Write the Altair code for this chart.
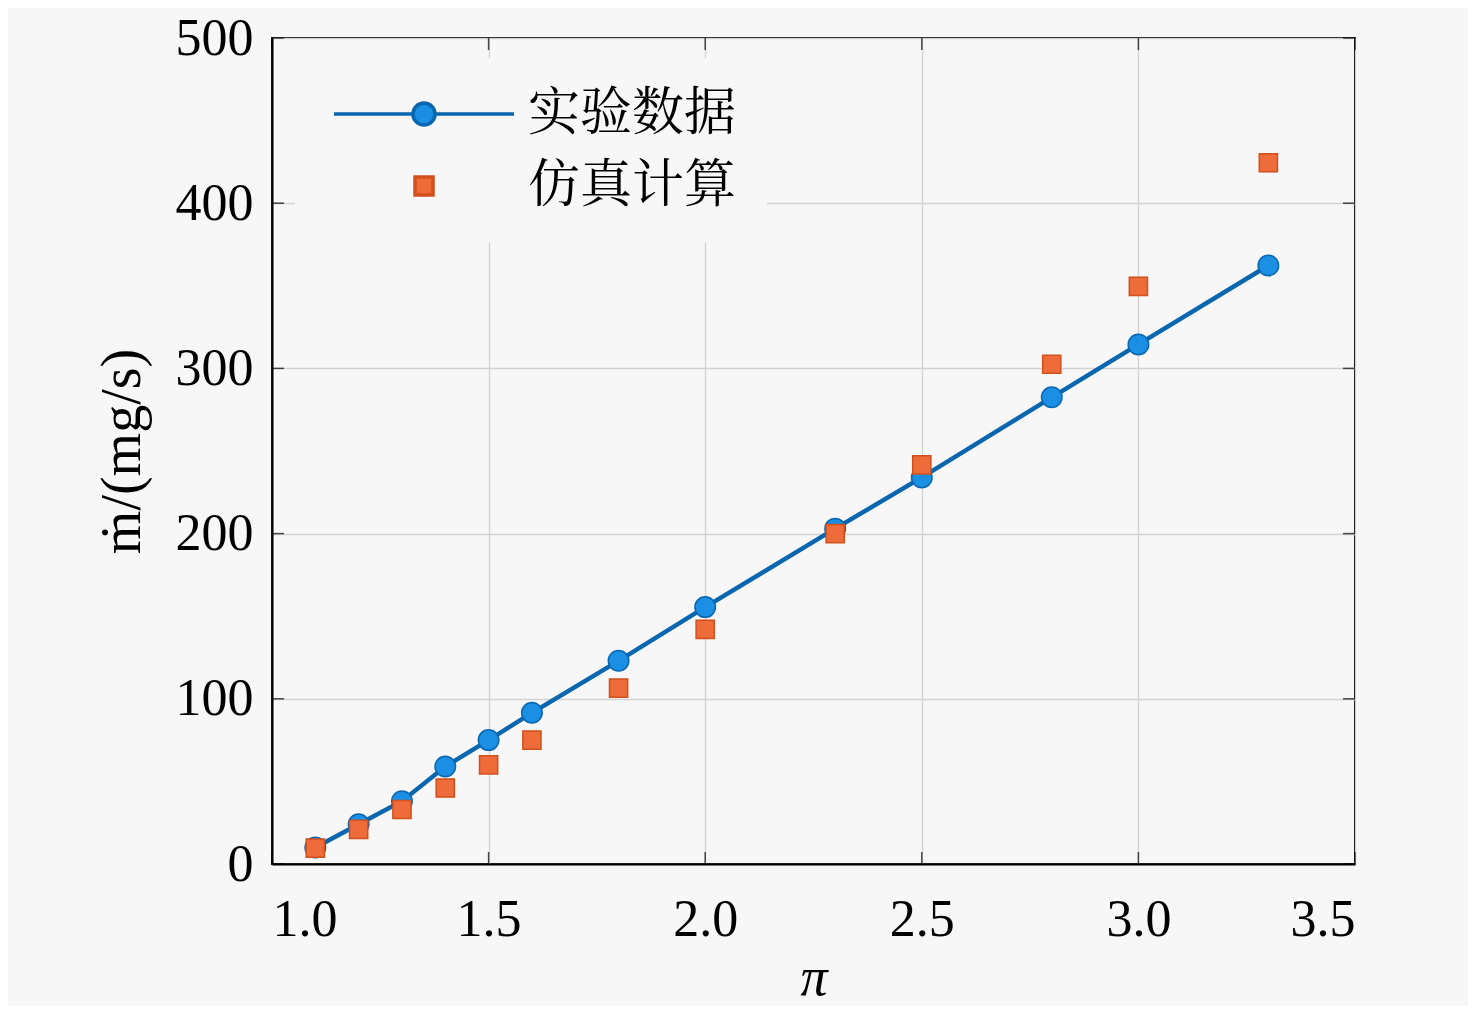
import altair as alt
import pandas as pd

# ---- data ----
pi_exp = [1.1, 1.2, 1.3, 1.4, 1.5, 1.6, 1.8, 2.0, 2.3, 2.5, 2.8, 3.0, 3.3]
m_exp = [10, 24, 38, 59, 75, 91.5, 123, 155.5, 203, 234, 282.5, 314.5, 362.3]
pi_sim = [1.1, 1.2, 1.3, 1.4, 1.5, 1.6, 1.8, 2.0, 2.3, 2.5, 2.8, 3.0, 3.3]
m_sim = [9.6, 21, 33, 46, 60, 75, 106.5, 142, 200, 241.6, 302.5, 349.7, 424.5]
series_names = ["实验数据", "仿真计算"]
x_ticks = [1.0, 1.5, 2.0, 2.5, 3.0, 3.5]
y_ticks = [0, 100, 200, 300, 400, 500]

exp_df = pd.DataFrame({"pi": pi_exp, "m": m_exp})
sim_df = pd.DataFrame({"pi": pi_sim, "m": m_sim})
leg_df = pd.DataFrame({"series": series_names})

BG = "#f7f7f7"
BLUE_LINE = "#0b66b0"
BLUE_FILL = "#1a8fe3"
OR_FILL = "#ee6b3a"
OR_EDGE = "#d2501c"
SERIF = "Liberation Serif, Times New Roman, serif"
CJK = "Noto Serif CJK SC, Noto Sans CJK SC, sans-serif"

xs = alt.Scale(domain=[1.0, 3.5], nice=False, zero=False)
ys = alt.Scale(domain=[0, 500], nice=False)

xax = alt.Axis(values=x_ticks, format=".1f", title="π", titleFontStyle="italic",
               labelPadding=30, titlePadding=6, titleFontSize=54, grid=True, ticks=False)
yax = alt.Axis(values=y_ticks, format="d", title="ṁ/(mg/s)",
               labelPadding=19, titlePadding=24, grid=True, ticks=False)

base_x = alt.X("pi:Q", scale=xs, axis=xax)
base_y = alt.Y("m:Q", scale=ys, axis=yax)

line = alt.Chart(exp_df).mark_line(color=BLUE_LINE, strokeWidth=4.5).encode(x=base_x, y=base_y)
circles = alt.Chart(exp_df).mark_point(shape="circle", filled=True, size=420, fill=BLUE_FILL,
                                       stroke=BLUE_LINE, strokeWidth=1.5, opacity=1).encode(
    x=alt.X("pi:Q", scale=xs), y=alt.Y("m:Q", scale=ys))
squares = alt.Chart(sim_df).mark_point(shape="square", filled=True, size=330, fill=OR_FILL,
                                       stroke=OR_EDGE, strokeWidth=1.5, opacity=1).encode(
    x=alt.X("pi:Q", scale=xs), y=alt.Y("m:Q", scale=ys))

# inward tick marks on all four sides
xt_df = pd.DataFrame({"pi": x_ticks})
yt_df = pd.DataFrame({"m": y_ticks})
tick_bottom = alt.Chart(xt_df).mark_tick(orient="vertical", size=12, thickness=1.5, color="black",
                                         yOffset=-6).encode(
    x=alt.X("pi:Q", scale=xs), y=alt.datum(0, scale=ys))
tick_top = alt.Chart(xt_df).mark_tick(orient="vertical", size=12, thickness=1.5, color="black",
                                      yOffset=6).encode(
    x=alt.X("pi:Q", scale=xs), y=alt.datum(500, scale=ys))
tick_left = alt.Chart(yt_df).mark_tick(orient="horizontal", size=12, thickness=1.5, color="black",
                                       xOffset=6).encode(
    y=alt.Y("m:Q", scale=ys), x=alt.datum(1.0, scale=xs))
tick_right = alt.Chart(yt_df).mark_tick(orient="horizontal", size=12, thickness=1.5, color="black",
                                        xOffset=-6).encode(
    y=alt.Y("m:Q", scale=ys), x=alt.datum(3.5, scale=xs))

# legend-only layer (drawn off-canvas and clipped)
exp_sym = ("M-4,0L-0.49,0M0.49,0L4,0"
           "M-0.49,0A0.49,0.49 0 1 1 0.49,0A0.49,0.49 0 1 1 -0.49,0Z")
sim_sym = "M-0.4,-0.4L0.4,-0.4L0.4,0.4L-0.4,0.4Z"
leg = alt.Legend(title=None, orient="none", legendX=23, legendY=20,
                 fillColor=BG, padding=30, labelFont=CJK, labelFontSize=52,
                 labelColor="black", symbolSize=2025, symbolStrokeWidth=3.5,
                 symbolOffset=73, labelOffset=78, labelLimit=0,
                 rowPadding=20, symbolOpacity=1)
legend_layer = alt.Chart(leg_df).mark_point(filled=True, clip=True, size=2025, opacity=1).encode(
    x=alt.value(-2000), y=alt.value(-2000),
    shape=alt.Shape("series:N", scale=alt.Scale(domain=series_names, range=[exp_sym, sim_sym]), legend=leg),
    fill=alt.Fill("series:N", scale=alt.Scale(domain=series_names, range=[BLUE_FILL, OR_FILL]), legend=leg),
    stroke=alt.Stroke("series:N", scale=alt.Scale(domain=series_names, range=[BLUE_LINE, OR_EDGE]), legend=leg),
)

chart = alt.layer(line, circles, squares, tick_bottom, tick_top, tick_left, tick_right, legend_layer).properties(
    width=1083, height=826,
    autosize=alt.AutoSizeParams(type="none"),
    padding={"left": 264, "top": 30, "right": 113, "bottom": 142},
    background=BG,
).configure_view(
    stroke="black", strokeWidth=2, fill=BG
).configure_axis(
    labelFont=SERIF, titleFont=SERIF, labelFontSize=52, titleFontSize=56,
    labelColor="black", titleColor="black", titleFontWeight="normal",
    domainColor="black", domainWidth=2, gridColor="#d2d2d2", gridWidth=1.3,
)

chart.save("out.html", embed_options={"renderer": "svg", "actions": False})
